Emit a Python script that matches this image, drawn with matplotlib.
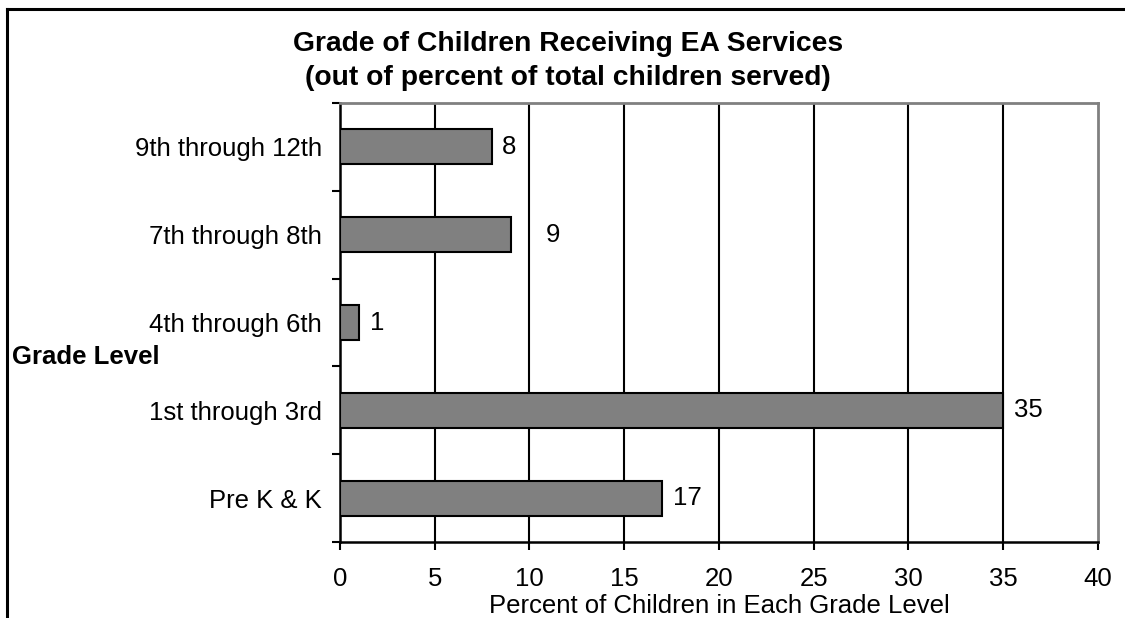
import matplotlib.pyplot as plt
from matplotlib.lines import Line2D

# data, bottom to top as drawn
grades = ["Pre K & K", "1st through 3rd", "4th through 6th",
          "7th through 8th", "9th through 12th"]
percents = [17, 35, 1, 9, 8]
xticks = [0, 5, 10, 15, 20, 25, 30, 35, 40]

plt.rcParams['font.family'] = ['Liberation Sans', 'DejaVu Sans']

fig = plt.figure(figsize=(11.25, 6.18), dpi=100)
ax = fig.add_axes([0.3022, 0.123, 0.6738, 0.7103])

pos = list(range(len(grades)))
ax.barh(pos, percents, height=0.4, color='#808080', edgecolor='black',
        linewidth=1.5, zorder=3)

# value labels (the 9 sits further out in the original)
label_pad = [11, 11, 11, 35, 10]
for p, v, pad in zip(pos, percents, label_pad):
    ax.annotate(str(v), (v, p), xytext=(pad * 0.72, 0), textcoords='offset points',
                va='center', ha='left', fontsize=18.5)

ax.set_xlim(0, 40)
ax.set_ylim(-0.5, len(grades) - 0.5)
ax.set_xticks(xticks)
ax.set_xticklabels([str(t) for t in xticks], fontsize=18.5)
ax.set_yticks(pos)
ax.set_yticklabels(grades, fontsize=18.5)
ax.set_yticks([p - 0.5 for p in pos] + [len(grades) - 0.5], minor=True)
ax.tick_params(axis='y', which='major', length=0, pad=13)
ax.tick_params(axis='y', which='minor', length=6, width=1.5, direction='out')
ax.tick_params(axis='x', length=6, width=1.5, direction='out', pad=12)

for t in xticks[1:-1]:
    ax.axvline(t, color='black', linewidth=1.5, zorder=1)

for side in ['left', 'bottom']:
    ax.spines[side].set_color('black')
    ax.spines[side].set_linewidth(1.8)
for side in ['top', 'right']:
    ax.spines[side].set_color('#808080')
    ax.spines[side].set_linewidth(2)

ax.set_xlabel("Percent of Children in Each Grade Level", fontsize=18.5, labelpad=2)

fig.text(0.505, 0.929, "Grade of Children Receiving EA Services",
         ha='center', va='center', fontsize=20.3, fontweight='bold')
fig.text(0.505, 0.873, "(out of percent of total children served)",
         ha='center', va='center', fontsize=20.3, fontweight='bold')
fig.text(0.011, 0.422, "Grade Level", ha='left', va='center',
         fontsize=18.5, fontweight='bold')

# outer frame (top and left edges visible)
fig.add_artist(Line2D([0.0065, 0.0065], [0, 0.986], color='black', linewidth=2.2))
fig.add_artist(Line2D([0.0065, 1.0], [0.986, 0.986], color='black', linewidth=2.2))

fig.savefig("out.png", dpi=100)
